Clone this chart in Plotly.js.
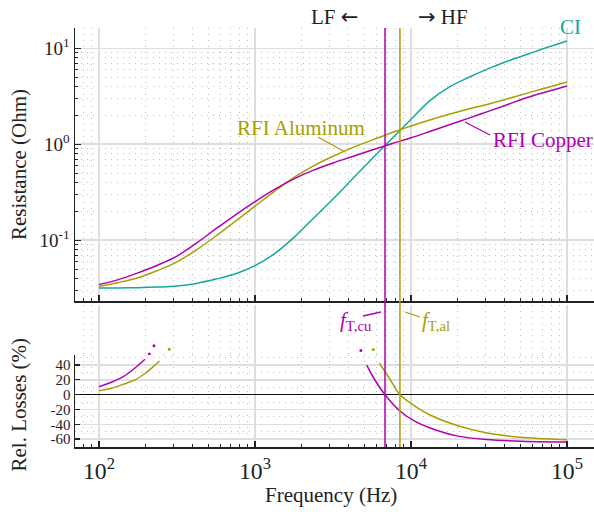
<!DOCTYPE html>
<html><head><meta charset="utf-8">
<script src="https://cdn.plot.ly/plotly-3.0.1.min.js"></script>
<style>html,body{margin:0;padding:0;background:#fff}#chart{width:594px;height:512px}</style>
</head><body><div id="chart"></div>
<script>
// ---- data ----
const freq = [100,133.4,177.8,237.1,316.2,421.7,562.3,749.9,1000,1333.5,1778.3,2371.4,3162.3,4217,5623.4,7498.9,10000,13335,17783,23714,31623,42170,56234,74989,100000];
const rCopper = [0.03467,0.03890,0.04571,0.05495,0.06839,0.09333,0.1318,0.1841,0.2523,0.3388,0.4365,0.5370,0.6383,0.7447,0.8710,1.012,1.167,1.365,1.603,1.884,2.213,2.612,3.090,3.548,4.046];
const rAluminum = [0.03311,0.03631,0.04074,0.04842,0.05957,0.07943,0.1109,0.1585,0.2265,0.3236,0.4519,0.5957,0.7499,0.9226,1.104,1.318,1.549,1.799,2.065,2.344,2.630,2.999,3.428,3.908,4.457];
const rCI = [0.03184,0.03184,0.03206,0.03251,0.03327,0.03548,0.03936,0.04467,0.05433,0.07244,0.1072,0.1698,0.2692,0.4365,0.7079,1.135,1.820,2.884,3.981,5.012,6.166,7.413,8.710,10.23,11.91];

const cuLossFreqLow = [100,120,143,170,197];
const cuLossLow = [10.8,16.7,24.3,36,47.8];
const alLossFreqLow = [100,120,143,170,198,219,244];
const alLossLow = [5.4,8.6,14,19.9,28.9,36.5,45.5];
const cuLossFreqHigh = [5200,5870,6810,8490,10700,13250,20000,30300,50000,100000];
const cuLossHigh = [40,19.8,0,-22,-36.5,-45,-56,-60.5,-62.8,-63.8];
const alLossFreqHigh = [6270,7330,8490,10700,13250,20000,30300,50000,100000];
const alLossHigh = [42.4,20.8,0,-16,-27.5,-42,-51.5,-57.5,-61];
const cuDotFreq = [210,225,4770,4950];
const cuDot = [55,66,59.5,49];
const alDotFreq = [261,282,5730,5950];
const alDot = [52.3,61.3,61,52];

const fTcu = 6810;
const fTal = 8490;

const yTickVals = [0.1,1,10];
const yTickText = ['10<sup>-1</sup>','10<sup>0</sup>','10<sup>1</sup>'];
const lossTickVals = [-60,-40,-20,0,20,40];
const lossTickText = ['-60','-40','-20','0','20','40'];

// ---- style ----
const CU = '#b000b0', AL = '#a99f00', CIc = '#14a89e';
const FONT = 'Liberation Serif, Times New Roman, serif';
const TXT = '#222';

function line(x,y,c,xa,ya,sm){return {x:x,y:y,type:'scatter',mode:'lines',line:{color:c,width:1.5,shape:'spline',smoothing:sm||0.8},xaxis:xa,yaxis:ya,hoverinfo:'skip'};}

const traces = [
  line(freq,rCI,CIc,'x','y',1),
  line(freq,rAluminum,AL,'x','y',1),
  line(freq,rCopper,CU,'x','y',1),
  line(cuLossFreqLow,cuLossLow,CU,'x2','y2'),
  line(alLossFreqLow,alLossLow,AL,'x2','y2'),
  line(cuLossFreqHigh,cuLossHigh,CU,'x2','y2'),
  line(alLossFreqHigh,alLossHigh,AL,'x2','y2'),
  {x:cuDotFreq,y:cuDot,type:'scatter',mode:'markers',marker:{color:CU,size:3},xaxis:'x2',yaxis:'y3'},
  {x:alDotFreq,y:alDot,type:'scatter',mode:'markers',marker:{color:AL,size:3},xaxis:'x2',yaxis:'y3'}
];

const GRID = '#dedede', MINOR = '#c0c0c0';
const minorLog = {dtick:'D1',ticks:'inside',ticklen:3,tickcolor:'#222',tickwidth:1,showgrid:true,gridcolor:MINOR,gridwidth:1,griddash:'1px,5px'};
const xCommon = {type:'log',range:[1.846,5.173],showline:true,linecolor:'#222',linewidth:1.5,ticks:'inside',ticklen:6,tickwidth:1.2,tickcolor:'#222',showgrid:true,gridcolor:GRID,gridwidth:1.5,zeroline:false,dtick:1,minor:minorLog};

// plot area in pixels: 75..594 x 28..447
const PX = p => (p-75)/519, PY = p => (447-p)/419;
const lossDomain = [0, 0.2196], lossRange = [-70.7, 53.6];
const overDomain = [lossDomain[1], 0.34];
const unitsPerPx = (lossRange[1]-lossRange[0]) / ((lossDomain[1]-lossDomain[0])*419);
const overRange = [lossRange[1], lossRange[1] + (overDomain[1]-overDomain[0])*419*unitsPerPx];

function ann(text,px,py,color,size){return {text:text,xref:'paper',yref:'paper',x:PX(px),y:PY(py),xanchor:'center',yanchor:'middle',showarrow:false,font:{family:FONT,size:size||21,color:color}};}
function seg(x0,y0,x1,y1,c){return {type:'line',xref:'paper',yref:'paper',x0:PX(x0),y0:PY(y0),x1:PX(x1),y1:PY(y1),line:{color:c,width:1.3}};}

const layout = {
  width:594,height:512,margin:{l:75,r:0,t:28,b:65},
  paper_bgcolor:'#fff',plot_bgcolor:'rgba(0,0,0,0)',showlegend:false,
  font:{family:FONT,size:19,color:TXT},
  xaxis:Object.assign({},xCommon,{anchor:'y',domain:[0,1],showticklabels:false}),
  xaxis2:Object.assign({},xCommon,{anchor:'y2',domain:[0,1],matches:'x',showticklabels:true,exponentformat:'power',showexponent:'all',ticklabelstandoff:3,tickfont:{family:FONT,size:19,color:TXT}}),
  yaxis:{type:'log',domain:[0.348,1],anchor:'x',range:[-1.635,1.211],tickmode:'array',tickvals:yTickVals,ticktext:yTickText,
    showline:true,linecolor:'#222',linewidth:1.5,ticks:'inside',ticklen:6,tickwidth:1.2,tickcolor:'#222',showgrid:true,gridcolor:GRID,gridwidth:1.5,zeroline:false,
    tickfont:{family:FONT,size:19,color:TXT},minor:{tickmode:'linear',dtick:'D1',ticks:'inside',ticklen:3,tickcolor:'#222',showgrid:true,gridcolor:MINOR,gridwidth:1,griddash:'1px,5px'}},
  yaxis2:{domain:lossDomain,anchor:'x2',range:lossRange,tickmode:'array',tickvals:lossTickVals,ticktext:lossTickText,
    showline:true,linecolor:'#222',linewidth:1.5,ticks:'inside',ticklen:5,tickwidth:1.2,tickcolor:'#222',showgrid:true,gridcolor:GRID,gridwidth:1.5,
    zeroline:true,zerolinecolor:'#111',zerolinewidth:1.2,tickfont:{family:FONT,size:15,color:TXT},
    minor:{tickmode:'linear',dtick:10,tick0:0,ticks:'',showgrid:true,gridcolor:MINOR,gridwidth:1,griddash:'1px,5px'}},
  yaxis3:{domain:overDomain,anchor:'x2',range:overRange,visible:false,showgrid:false,zeroline:false,fixedrange:true},
  shapes:[
    {type:'line',xref:'x',yref:'paper',x0:fTcu,x1:fTcu,y0:0,y1:1,line:{color:CU,width:1.5}},
    {type:'line',xref:'x',yref:'paper',x0:fTal,x1:fTal,y0:0,y1:1,line:{color:AL,width:1.5}},
    seg(318,137,345,152,AL),
    seg(465,122,490,135,CU),
    seg(363,316,381,312,CU),
    seg(405,312,420,317,AL)
  ],
  annotations:[
    ann('LF <span style="font-family:DejaVu Sans">\u2190</span>',334.5,17,TXT),
    ann('<span style="font-family:DejaVu Sans">\u2192</span> HF',442.5,17,TXT),
    ann('CI',570,27,CIc),
    ann('RFI Aluminum',301,128,AL),
    ann('RFI Copper',543,140,CU),
    ann('<i>f</i><sub>T,cu</sub>',356,321,CU),
    ann('<i>f</i><sub>T,al</sub>',436,321,AL),
    {text:'Resistance (Ohm)',xref:'paper',yref:'paper',x:PX(18.5),y:PY(164.5),textangle:-90,showarrow:false,xanchor:'center',yanchor:'middle',font:{family:FONT,size:21,color:TXT}},
    {text:'Rel. Losses (%)',xref:'paper',yref:'paper',x:PX(18.5),y:PY(405),textangle:-90,showarrow:false,xanchor:'center',yanchor:'middle',font:{family:FONT,size:21,color:TXT}},
    {text:'Frequency (Hz)',xref:'paper',yref:'paper',x:PX(331),y:PY(495),showarrow:false,xanchor:'center',yanchor:'middle',font:{family:FONT,size:21,color:TXT}}
  ]
};

Plotly.newPlot('chart',traces,layout,{staticPlot:true,displayModeBar:false});
</script></body></html>
